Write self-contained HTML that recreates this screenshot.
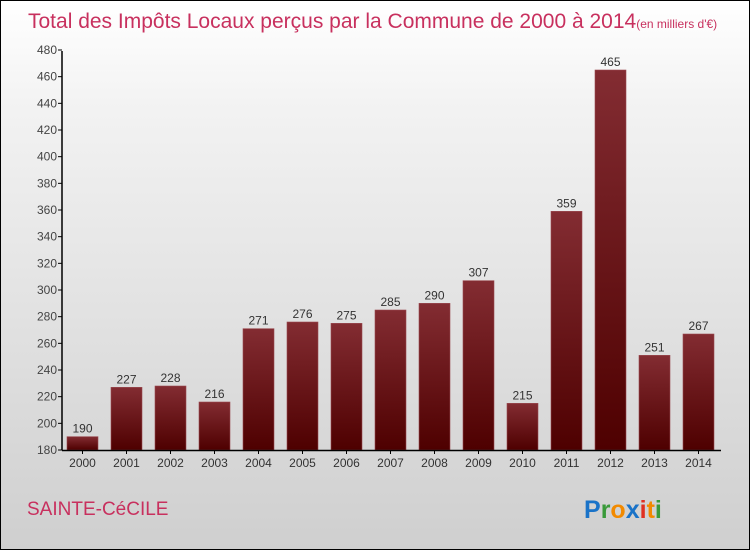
<!DOCTYPE html>
<html><head><meta charset="utf-8"><style>
body{margin:0}
#c{width:748px;height:548px;border:1px solid #000;position:relative;background:linear-gradient(#fff,#f2f2f2 20%,#cfcfcf);font-family:"Liberation Sans",sans-serif;overflow:hidden}
</style></head><body>
<div id="c">
<svg id="s" width="748" height="548" style="position:absolute;left:0;top:0">
<defs><linearGradient id="g" x1="0" y1="0" x2="0" y2="1"><stop offset="0" stop-color="#832c32"/><stop offset="1" stop-color="#4e0000"/></linearGradient></defs>
<text x="27" y="27" font-size="21" fill="#c8305e">Total des Impôts Locaux perçus par la Commune de 2000 à 2014<tspan font-size="12">(en milliers d'€)</tspan></text>
<text x="26" y="514" font-size="19" fill="#c8305e">SAINTE-CéCILE</text>
<text x="583" y="517" font-size="25" font-weight="bold"><tspan fill="#1a73c8">P</tspan><tspan fill="#3a9a3a">r</tspan><tspan fill="#f28a00">o</tspan><tspan fill="#1a73c8">x</tspan><tspan fill="#e03020">i</tspan><tspan fill="#f28a00">t</tspan><tspan fill="#3a9a3a">i</tspan></text>
<g id="plot"></g>
</svg>
</div>
<script>
const years=["2000","2001","2002","2003","2004","2005","2006","2007","2008","2009","2010","2011","2012","2013","2014"];
const values=[190,227,228,216,271,276,275,285,290,307,215,359,465,251,267];
const yTicks=[180,200,220,240,260,280,300,320,340,360,380,400,420,440,460,480];
const NS="http://www.w3.org/2000/svg";
const g=document.getElementById('plot');
const y=v=>449-(v-180)*400/300;
const x=i=>66+i*44;
function mk(t,a,txt){const e=document.createElementNS(NS,t);for(const k in a)e.setAttribute(k,a[k]);if(txt!==undefined)e.textContent=txt;g.appendChild(e);return e;}
yTicks.forEach(v=>{
 const l=mk('line',{x1:57,x2:61,y1:y(v),y2:y(v),stroke:'#000'});
 
 
 const t=mk('text',{x:56,y:y(v)+4,'font-size':12,'text-anchor':'end',fill:'#444'},v);
 
 
});
values.forEach((v,i)=>{
 const r=mk('rect',{x:x(i),y:y(v),width:31,height:449-y(v),fill:'url(#g)',stroke:'#9a4a50','stroke-width':0.6});
 
 
 const t=mk('text',{x:x(i)+15.5,y:y(v)-4,'font-size':12,'text-anchor':'middle',fill:'#333'},v);
 
 
 const k=mk('line',{x1:x(i)+15.5,x2:x(i)+15.5,y1:449,y2:453,stroke:'#000'});
 
 
 const xl=mk('text',{x:x(i)+15.5,y:466,'font-size':12,'text-anchor':'middle',fill:'#333'},years[i]);
 
 
});
const ya=mk('line',{x1:61,x2:61,y1:50,y2:449.5,stroke:'#000','stroke-width':1.5});


const xa=mk('line',{x1:61,x2:720,y1:449.5,y2:449.5,stroke:'#000','stroke-width':1.5});


</script>
</body></html>
